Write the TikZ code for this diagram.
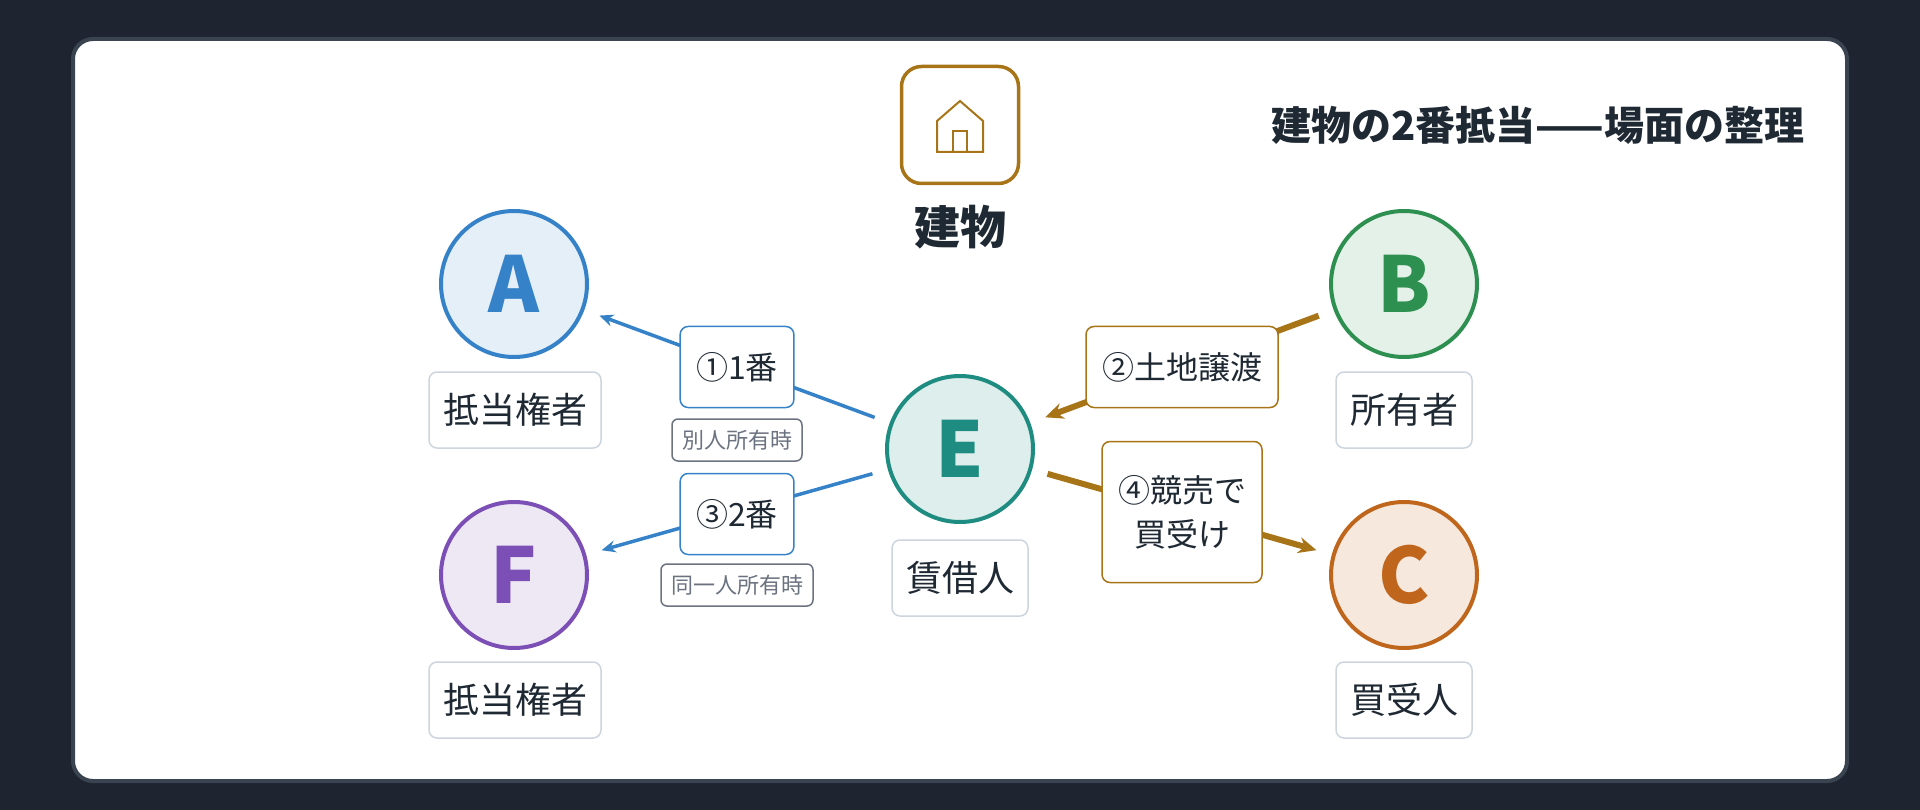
\documentclass[tikz,border=0pt]{standalone}
\usepackage{fontspec}
\setmainfont{Noto Sans CJK JP}
\usetikzlibrary{positioning,arrows.meta}
\definecolor{bgdark}{HTML}{1E2530}
\definecolor{cardedge}{HTML}{3A4350}
\definecolor{ink}{HTML}{1F2933}
\definecolor{boxedge}{HTML}{CDD5DF}
\definecolor{subedge}{HTML}{6B7280}
\definecolor{hblue}{HTML}{3582C8}
\definecolor{hgreen}{HTML}{2E9050}
\definecolor{hteal}{HTML}{1E8C80}
\definecolor{hpurple}{HTML}{7B4FB5}
\definecolor{horange}{HTML}{C0651C}
\definecolor{hbrown}{HTML}{A87418}
\tikzset{
  party/.style={circle, line width=4pt, minimum size=146pt, inner sep=0pt,
    font=\fontsize{77}{77}\selectfont\bfseries},
  role/.style={draw=boxedge, line width=1.5pt, fill=white, rounded corners=8pt,
    minimum height=76pt, inner xsep=14pt, text=ink, font=\fontsize{36}{36}\selectfont},
  step/.style={draw=#1, line width=1.5pt, fill=white, rounded corners=8pt,
    inner xsep=16pt, text=ink, align=center, font=\fontsize{32}{44}\selectfont},
  note/.style={draw=subedge, line width=1.5pt, fill=white, rounded corners=6pt,
    minimum height=42pt, inner xsep=10pt, text=subedge, font=\fontsize{22}{22}\selectfont},
  lien/.style={hblue, line width=3.5pt, -{Stealth[length=14pt,width=12pt]}, shorten <=16pt, shorten >=16pt},
  deal/.style={hbrown, line width=6pt, -{Stealth[length=18pt,width=16pt]}, shorten <=16pt, shorten >=16pt},
}
\begin{document}
\begin{tikzpicture}[x=1pt, y=-1pt]
  \fill[bgdark] (0,0) rectangle (1920,810);
  \useasboundingbox (0,0) rectangle (1920,810);
  \draw[cardedge, line width=4pt, fill=white, rounded corners=20pt] (73,39) rectangle (1847,781);

  % building
  \node [draw=hbrown, line width=3.5pt, rounded corners=20pt, minimum size=117pt] (bldg) at (960,125) {};
  \draw [hbrown, line width=2pt] (937,152) -- (937,121) -- (960,101) -- (983,121) -- (983,152) -- cycle;
  \draw [hbrown, line width=2pt] (953,152) -- (953,131) -- (967,131) -- (967,152);
  \node [text=ink, font=\fontsize{46}{46}\selectfont\bfseries, below=16pt of bldg] (bldglabel) {建物};
  \node [text=ink, font=\fontsize{40}{40}\selectfont\bfseries, anchor=east] (title) at (1808,125) {建物の2番抵当——場面の整理};

  % parties
  \node [party, draw=hblue, fill=hblue!13, text=hblue] (a) at (514,284) {A};
  \node [party, draw=hgreen, fill=hgreen!13, text=hgreen] (b) at (1404,284) {B};
  \node [party, draw=hteal, fill=hteal!15, text=hteal] (e) at (960,449) {E};
  \node [party, draw=hpurple, fill=hpurple!13, text=hpurple] (f) at (514,575) {F};
  \node [party, draw=horange, fill=horange!15, text=horange] (c) at (1404,575) {C};

  \node [role] (alabel) at (515,410) {抵当権者};
  \node [role] (blabel) at (1404,410) {所有者};
  \node [role] (elabel) at (960,578) {賃借人};
  \node [role] (flabel) at (515,700) {抵当権者};
  \node [role] (clabel) at (1404,700) {買受人};

  % relations
  \draw [lien] (e) -- (a);
  \draw [lien] (e) -- (f);
  \draw [deal] (b) -- (e);
  \draw [deal] (e) -- (c);

  \node [step=hblue, minimum height=81pt] (first) at (737,367) {①1番};
  \node [note] (firstnote) at (737,440) {別人所有時};
  \node [step=hblue, minimum height=81pt] (third) at (737,514) {③2番};
  \node [note] (thirdnote) at (737,585) {同一人所有時};
  \node [step=hbrown, minimum height=81pt] (second) at (1182,367) {②土地譲渡};
  \node [step=hbrown, minimum height=141pt] (fourth) at (1182,512) {④競売で\\買受け};
\end{tikzpicture}
\end{document}
